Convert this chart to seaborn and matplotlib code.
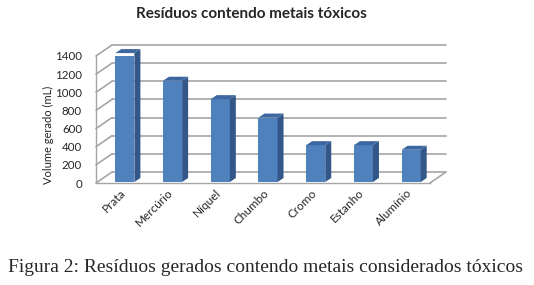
import matplotlib
matplotlib.use("Agg")
import matplotlib.pyplot as plt
import matplotlib.transforms as mtransforms
from matplotlib.patches import Polygon
from matplotlib.lines import Line2D
import seaborn as sns
import pandas as pd
import numpy as np

categories = ["Prata", "Mercúrio", "Níquel", "Chumbo", "Cromo", "Estanho", "Alumínio"]
values = [1400, 1100, 900, 700, 400, 400, 350]
yticks = [0, 200, 400, 600, 800, 1000, 1200, 1400]
title = "Resíduos contendo metais tóxicos"
ylabel = "Volume gerado (mL)"
caption = "Figura 2: Resíduos gerados contendo metais considerados tóxicos"

sns.set_style("white")
plt.rcParams["font.family"] = ["Lato", "DejaVu Sans"]

W, H = 534, 285
DPI = 100
fig = plt.figure(figsize=(W / DPI, H / DPI), dpi=DPI)
ax = fig.add_axes([96 / W, 1 - 183 / H, (430 - 96) / W, (183 - 56) / H])

df = pd.DataFrame({"metal": categories, "vol": values})
sns.barplot(data=df, x="metal", y="vol", ax=ax, color="#4F81BD",
            width=0.4, saturation=1, edgecolor="none", zorder=5)
ax.set_xlim(-0.5, len(categories) - 0.5)
ax.set_ylim(0, max(yticks))
ax.set_yticks(yticks)
ax.set_xlabel("")
ax.set_ylabel(ylabel, fontsize=8)
ax.yaxis.set_label_coords(-0.126, 0.378)
for s in ["top", "right"]:
    ax.spines[s].set_visible(False)
for s in ["left", "bottom"]:
    ax.spines[s].set_color("#A6A6A6")
    ax.spines[s].set_linewidth(1)
ax.tick_params(axis="y", length=0, pad=10, labelsize=8.3)
ax.tick_params(axis="x", length=0, pad=3, labelsize=8.5)
for lab in ax.get_xticklabels():
    lab.set_rotation(45)
    lab.set_ha("right")
    lab.set_rotation_mode("anchor")

grid_col = "#A6A6A6"
DX, DY = 16, 11  # depth of the back wall, pixels
back = ax.transData + mtransforms.ScaledTranslation(DX / DPI, DY / DPI, fig.dpi_scale_trans)
x0, x1 = ax.get_xlim()
for y in yticks:
    ax.add_line(Line2D([x0, x1], [y, y], transform=back, color=grid_col, lw=1.2,
                       clip_on=False, zorder=1))
fig.canvas.draw()
ident = mtransforms.IdentityTransform()
for y in yticks:
    fx, fy = ax.transData.transform((x0, y))
    ax.add_line(Line2D([fx, fx + DX], [fy, fy + DY], transform=ident,
                       color=grid_col, lw=1.2, clip_on=False, zorder=1))
rx, ry = ax.transData.transform((x1, 0))
ax.add_line(Line2D([rx, rx + DX], [ry, ry + DY], transform=ident,
                   color=grid_col, lw=1.2, clip_on=False, zorder=1))

BX, BY = 5, 1
bar_off = mtransforms.ScaledTranslation(BX / DPI, BY / DPI, fig.dpi_scale_trans)
SCALE = 1.015
SD, SU = 6, 4
for p in list(ax.patches):
    p.set_height(p.get_height() * SCALE)
    p.set_transform(ax.transData + bar_off)
    xl, yb = p.get_x(), p.get_y()
    xr, yt = xl + p.get_width(), yb + p.get_height()
    (lx, by), (rx2, ty) = ax.transData.transform([(xl, yb), (xr, yt)])
    lx += BX; rx2 += BX; by += BY; ty += BY
    side = Polygon([(rx2, by), (rx2, ty), (rx2 + SD, ty + SU), (rx2 + SD, by + SU)],
                   closed=True, transform=ident, facecolor="#34578A",
                   edgecolor="none", zorder=6, clip_on=False)
    top = Polygon([(lx, ty), (rx2, ty), (rx2 + SD, ty + SU), (lx + SD, ty + SU)],
                  closed=True, transform=ident, facecolor="#3D67A0",
                  edgecolor="none", zorder=6, clip_on=False)
    ax.add_patch(side)
    ax.add_patch(top)

fig.text(251 / W, 1 - 14 / H, title, ha="center", va="center",
         fontsize=11, fontweight="bold")
fig.text(266 / W, 1 - 267 / H, caption, ha="center", va="center",
         fontsize=14, family=["Liberation Serif", "DejaVu Serif"])

fig.savefig("out.png", dpi=DPI)
